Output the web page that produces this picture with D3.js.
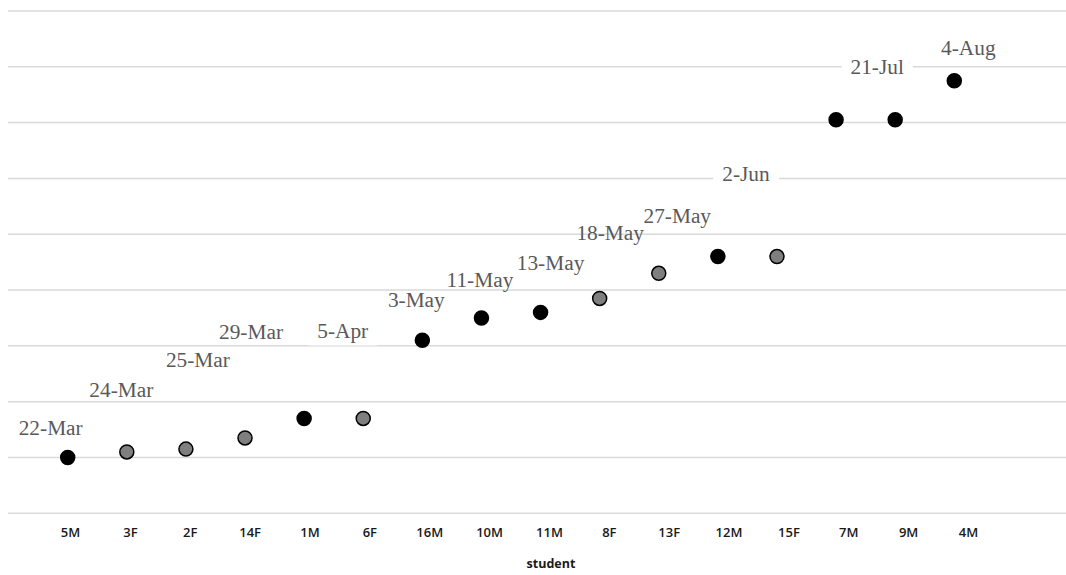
<!DOCTYPE html>
<html>
<head>
<meta charset="utf-8">
<script src="https://cdn.jsdelivr.net/npm/d3@7"></script>
<style>
  html, body { margin: 0; padding: 0; background: #fff; }
  svg { display: block; }
</style>
</head>
<body>
<svg id="chart" width="1066" height="575"></svg>
<script>
// ---- data ----
const students = ["5M","3F","2F","14F","1M","6F","16M","10M","11M","8F","13F","12M","15F","7M","9M","4M"];
const dates    = ["2021-03-22","2021-03-24","2021-03-25","2021-03-29","2021-04-05","2021-04-05","2021-05-03","2021-05-11","2021-05-13","2021-05-18","2021-05-27","2021-06-02","2021-06-02","2021-07-21","2021-07-21","2021-08-04"];
const sex      = ["M","F","F","F","M","F","M","M","M","F","F","M","F","M","M","M"];
const gridDates = ["2021-03-02","2021-03-22","2021-04-11","2021-05-01","2021-05-21","2021-06-10","2021-06-30","2021-07-20","2021-08-09","2021-08-29"];
const labelStudents = ["5M","3F","2F","14F","6F","16M","10M","11M","8F","13F","15F","9M","4M"];
const xTitle = "student";

// ---- layout (label nudges, px) ----
const labelNudge = [
  {dx:-17, dy:-22}, {dx:-5.5, dy:-55}, {dx:12, dy:-82}, {dx:6, dy:-99},
  {dx:-20.5, dy:-80, box:true}, {dx:-6, dy:-33}, {dx:-1.5, dy:-31}, {dx:10, dy:-42},
  {dx:10.5, dy:-58}, {dx:18.5, dy:-50}, {dx:-31, dy:-76, box:true}, {dx:-18, dy:-46, box:true},
  {dx:14, dy:-26}
];

const parse = d3.utcParse("%Y-%m-%d");
const fmt = d3.utcFormat("%-d-%b");
const rows = students.map((s, i) => ({ student: s, date: parse(dates[i]), sex: sex[i] }));

const svg = d3.select("#chart");

const y = d3.scaleUtc()
  .domain([parse(gridDates[0]), parse(gridDates[gridDates.length - 1])])
  .range([513.3, 11]);

const x = d3.scalePoint().domain(students).range([67.7, 954.3]);
const xAxisScale = d3.scalePoint().domain(students).range([70, 968]);

// gridlines
svg.append("g").selectAll("line")
  .data(gridDates.map(parse))
  .join("line")
  .attr("x1", 8).attr("x2", 1066)
  .attr("y1", d => y(d)).attr("y2", d => y(d))
  .attr("stroke", "#d9d9d9").attr("stroke-width", 1.5);

// x axis labels
const xAxis = d3.axisBottom(xAxisScale).tickSize(0).tickPadding(0);
const gx = svg.append("g").attr("transform", "translate(0,536.5)").call(xAxis);
gx.select(".domain").remove();
gx.selectAll("text")
  .attr("y", 0)
  .attr("dy", 0)
  .attr("font-family", "'Open Sans', sans-serif")
  .attr("font-size", 13)
  .attr("font-weight", 600)
  .attr("fill", "#1a1a1a");

svg.append("text")
  .attr("x", 551).attr("y", 568)
  .attr("text-anchor", "middle")
  .attr("font-family", "'Open Sans', sans-serif")
  .attr("font-size", 12.5)
  .attr("font-weight", 700)
  .attr("fill", "#1a1a1a")
  .text(xTitle);

// points
svg.append("g").selectAll("circle")
  .data(rows)
  .join("circle")
  .attr("cx", d => x(d.student))
  .attr("cy", d => y(d.date))
  .attr("r", 7)
  .attr("fill", d => d.sex === "M" ? "#000000" : "#7f7f7f")
  .attr("stroke", "#000000")
  .attr("stroke-width", 1.5);

// data labels
const byStudent = new Map(rows.map(r => [r.student, r]));
const lg = svg.append("g");
labelStudents.forEach((s, i) => {
  const r = byStudent.get(s);
  const n = labelNudge[i];
  const cx = x(s) + n.dx;
  const by = y(r.date) + n.dy;
  const g = lg.append("g");
  const rect = g.append("rect").attr("fill", "#fff");
  const t = g.append("text")
    .attr("x", cx).attr("y", by)
    .attr("text-anchor", "middle")
    .attr("font-family", "'Liberation Serif', 'Times New Roman', serif")
    .attr("font-size", 21.33)
    .attr("fill", "#595959")
    .text(fmt(r.date));
  if (n.box) {
    const bb = t.node().getBBox();
    rect.attr("x", bb.x - 9).attr("y", bb.y - 2)
      .attr("width", bb.width + 18).attr("height", bb.height + 4);
  } else {
    rect.remove();
  }
});
</script>
</body>
</html>
